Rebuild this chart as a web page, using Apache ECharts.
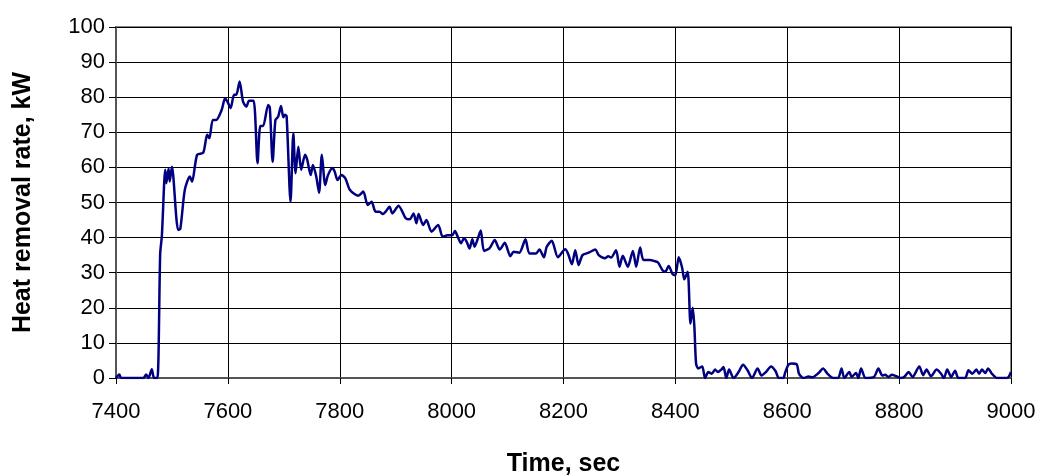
<!DOCTYPE html>
<html>
<head>
<meta charset="utf-8">
<script src="https://cdn.jsdelivr.net/npm/echarts@6/dist/echarts.min.js"></script>
<style>
  html, body { margin: 0; padding: 0; background: #ffffff; }
  #chart { width: 1044px; height: 475px; }
</style>
</head>
<body>
<div id="chart"></div>
<script>
// Heat removal rate history (time in seconds, rate in kW)
const timeSec = [
  7400, 7406, 7409, 7449, 7454, 7458, 7464, 7468, 7474, 7479,
  7482, 7488, 7490, 7494, 7496, 7500, 7511, 7515, 7523, 7532,
  7536, 7545, 7556, 7563, 7567, 7573, 7579, 7589, 7595, 7599,
  7605, 7611, 7615, 7621, 7627, 7633, 7638, 7646, 7653, 7658,
  7663, 7672, 7675, 7680, 7685, 7690, 7695, 7699, 7702, 7705,
  7712, 7717, 7721, 7726, 7731, 7738, 7742, 7748, 7752, 7758,
  7763, 7768, 7774, 7779, 7787, 7791, 7796, 7803, 7810, 7818,
  7833, 7842, 7850, 7857, 7864, 7871, 7877, 7882, 7889, 7894,
  7905, 7918, 7925, 7932, 7937, 7941, 7949, 7955, 7964, 7976,
  7984, 7993, 8001, 8006, 8011, 8017, 8022, 8027, 8032, 8037,
  8041, 8046, 8052, 8058, 8068, 8077, 8086, 8095, 8105, 8111,
  8121, 8132, 8139, 8151, 8157, 8165, 8170, 8179, 8190, 8203,
  8208, 8215, 8221, 8227, 8234, 8245, 8257, 8263, 8274, 8280,
  8285, 8294, 8300, 8306, 8315, 8324, 8330, 8337, 8343, 8354,
  8363, 8369, 8377, 8382, 8388, 8395, 8400, 8406, 8412, 8416,
  8422, 8427, 8431, 8434, 8437, 8441, 8448, 8453, 8459, 8465,
  8471, 8476, 8482, 8486, 8491, 8496, 8504, 8513, 8521, 8529,
  8537, 8547, 8554, 8562, 8571, 8579, 8585, 8593, 8596, 8602,
  8608, 8617, 8621, 8629, 8638, 8645, 8656, 8664, 8672, 8682,
  8691, 8697, 8702, 8711, 8715, 8723, 8727, 8732, 8740, 8755,
  8763, 8770, 8775, 8781, 8787, 8795, 8803, 8809, 8817, 8824,
  8836, 8843, 8849, 8857, 8867, 8875, 8880, 8886, 8893, 8900,
  8906, 8918, 8924, 8931, 8938, 8943, 8948, 8954, 8959, 8966,
  8975, 8993, 9000
];
const heatKW = [
  0, 1, 0, 0, 1, 0, 2.5, 0, 0, 35.5,
  40.5, 59.3, 55.5, 59.7, 56, 60.2, 42.2, 42.5, 53.6, 57.4,
  55.9, 63.6, 64.2, 69.3, 68.3, 73.5, 73.5, 76.4, 79.7, 78.8,
  76.9, 80.7, 80.7, 84.5, 78.8, 77.3, 79, 79, 61.2, 71.8,
  71.8, 77.8, 77, 61.6, 73.5, 74.5, 77.5, 74.3, 75, 74.6,
  50.2, 69.7, 58.3, 65.9, 59.3, 63.6, 62.1, 57.8, 60.7, 57.4,
  52.8, 63.6, 55, 57.8, 59.8, 58.8, 56.4, 57.8, 56.9, 53.6,
  51.9, 53.1, 49.3, 50.2, 47.4, 47.4, 46.7, 47.4, 48.8, 46.9,
  49.1, 45.5, 45.2, 46.9, 44.1, 46.7, 43.6, 45, 41.7, 43.6,
  40.2, 40.7, 40.7, 41.9, 40.2, 38.4, 39.8, 38.8, 36.9, 39.5,
  37.4, 39.3, 42, 36.2, 37, 39.3, 36.6, 38.5, 34.7, 36,
  35.7, 39.5, 35.5, 35.5, 36.6, 34.4, 37.4, 39.1, 34.4, 36.7,
  35.5, 32.4, 36.4, 32.2, 35, 35.7, 36.6, 35, 34.1, 34.7,
  34.3, 36.4, 31.7, 34.8, 31.7, 36.2, 31.7, 37.2, 33.6, 33.6,
  33.3, 32.9, 30.7, 30.3, 31.9, 29.6, 29.3, 34.4, 31.5, 28.1,
  30.3, 15.5, 20, 14.5, 4.1, 2.7, 3.3, 0, 1.7, 1.2,
  2.4, 1.7, 2.4, 3.1, 0, 2.4, 0, 1.7, 3.8, 2.2,
  0, 2.7, 0.7, 1.7, 3.3, 2, 0, 0, 1.4, 3.8,
  4.1, 3.9, 1.2, 0, 0.4, 0.2, 1.4, 2.7, 1.2, 0,
  0, 2.7, 0, 1.7, 0.3, 1.4, 0, 2.7, 0, 0.3,
  2.7, 0.7, 0.9, 0.3, 0.9, 0.5, 0, 0.3, 1.7, 0.3,
  3.3, 0.8, 2.4, 0.5, 2.4, 1.2, 0, 2.4, 0.3, 2.1,
  0, 0, 2.2, 1.2, 2.4, 1.2, 2.4, 1.4, 2.7, 1.2,
  0, 0, 1.7
];

// Axis ranges and tick spacing
const xMin = 7400, xMax = 9000, xStep = 200;
const yMin = 0, yMax = 100, yStep = 10;

const seriesData = timeSec.map((t, i) => [t, heatKW[i]]);

const chart = echarts.init(document.getElementById('chart'), null, { renderer: 'canvas' });
const font = 'Arial, "Liberation Sans", Helvetica, sans-serif';

chart.setOption({
  animation: false,
  backgroundColor: '#ffffff',
  grid: {
    left: 116, right: 33, top: 27, bottom: 97,
    outerBoundsMode: 'none',
    containLabel: false,
    show: true,
    borderColor: '#888888',
    borderWidth: 2,
    backgroundColor: 'transparent'
  },
  xAxis: {
    type: 'value',
    min: xMin, max: xMax, interval: xStep,
    name: 'Time, sec',
    nameLocation: 'middle',
    nameGap: 74,
    nameTextStyle: { fontFamily: font, fontWeight: 'bold', fontSize: 25, color: '#000' },
    axisLine: { show: true, lineStyle: { color: '#555555', width: 2 } },
    axisTick: { show: true, inside: false, length: 6, lineStyle: { color: '#000', width: 1 } },
    axisLabel: {
      fontFamily: font, fontSize: 22, color: '#000', margin: 23,
      formatter: (v) => String(v)
    },
    splitLine: { show: true, lineStyle: { color: '#000000', width: 1 } }
  },
  yAxis: {
    type: 'value',
    min: yMin, max: yMax, interval: yStep,
    name: 'Heat removal rate, kW',
    nameLocation: 'middle',
    nameGap: 80,
    nameRotate: 90,
    nameTextStyle: { fontFamily: font, fontWeight: 'bold', fontSize: 25, color: '#000' },
    axisLine: { show: true, lineStyle: { color: '#555555', width: 2 } },
    axisTick: { show: true, inside: false, length: 7, lineStyle: { color: '#000', width: 1 } },
    axisLabel: { fontFamily: font, fontSize: 22, color: '#000', margin: 11 },
    splitLine: { show: true, lineStyle: { color: '#000000', width: 1 } }
  },
  series: [{
    type: 'line',
    data: seriesData,
    showSymbol: false,
    smooth: 0.25,
    lineStyle: { color: '#000080', width: 2.5 },
    itemStyle: { color: '#000080' }
  }]
});
</script>
</body>
</html>
